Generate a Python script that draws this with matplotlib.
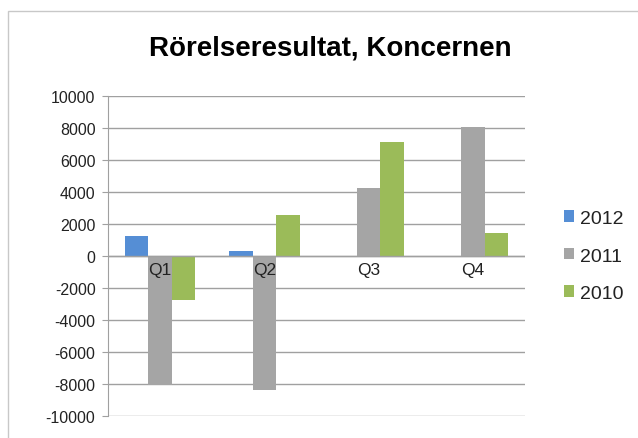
import numpy as np
import matplotlib
matplotlib.use("Agg")
import matplotlib.pyplot as plt
from matplotlib.patches import Rectangle

plt.rcParams['font.family'] = ['Liberation Sans', 'DejaVu Sans']

quarters = ['Q1', 'Q2', 'Q3', 'Q4']
years = ['2012', '2011', '2010']
v2012 = [1250, 300, 0, 0]
v2011 = [-8050, -8400, 4230, 8080]
v2010 = [-2750, 2580, 7150, 1420]
colors = ['#558ED5', '#A5A5A5', '#9BBB59']
yticks = list(range(-10000, 10001, 2000))

fig = plt.figure(figsize=(6.38, 4.39), dpi=100)
# chart area border (only top and left edges fall inside the picture)
fig.patches.append(Rectangle((7.5 / 638, -0.1), 1.2, 1.1 - 12.5 / 439,
                             transform=fig.transFigure, fill=False,
                             edgecolor='#C8C8C8', linewidth=1,
                             clip_on=False))

ax = fig.add_axes([108 / 638, 1 - 417 / 439, 417 / 638, 320 / 439])

x = np.arange(len(quarters))
w = 0.225
series = [v2012, v2011, v2010]
for i, (vals, name) in enumerate(zip(series, years)):
    ax.bar(x + (i - 1) * w, vals, width=w, color=colors[i], label=name,
           zorder=3)

ax.set_xlim(-0.5, 3.5)
ax.set_ylim(-10000, 10000)
ax.set_yticks(yticks)
ax.set_yticklabels([str(t) for t in yticks], fontsize=11.5, color='#222222')
ax.yaxis.grid(True, color='#A0A0A0', linewidth=1, zorder=0)
ax.set_axisbelow(True)
ax.tick_params(axis='y', length=4, color='#A0A0A0', pad=5)
ax.axhline(0, color='#A0A0A0', linewidth=1, zorder=4)

ax.set_xticks([])
for xi, q in zip(x, quarters):
    ax.text(xi, -350, q, ha='center', va='top', fontsize=12.5,
            color='#222222', zorder=5)

for s in ['top', 'right', 'bottom']:
    ax.spines[s].set_visible(False)
ax.spines['left'].set_color('#A0A0A0')

fig.text(330 / 638, 1 - 48 / 439, 'Rörelseresultat, Koncernen', ha='center',
         va='center', fontsize=20, fontweight='bold')

leg = ax.legend(loc='center left', bbox_to_anchor=(1.093, 0.5), frameon=False,
                fontsize=14, handlelength=0.55, handleheight=0.55,
                handletextpad=0.3, labelspacing=1.05, borderpad=0,
                borderaxespad=0)
for t in leg.get_texts():
    t.set_color('#222222')

fig.savefig('out.png', dpi=100)
